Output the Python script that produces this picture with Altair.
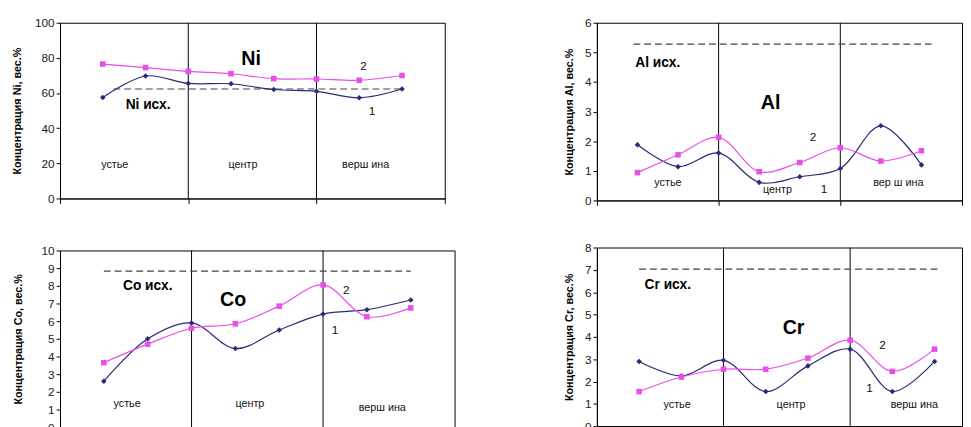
import altair as alt
import pandas as pd

positions = [1, 2, 3, 4, 5, 6, 7, 8]

ni_1 = [57.5, 69.7, 65.5, 65.3, 62.0, 61.0, 57.3, 62.3]
ni_2 = [76.5, 74.5, 72.3, 71.0, 68.2, 68.0, 67.3, 70.0]
ni_base = 62.3

al_1 = [1.88, 1.14, 1.60, 0.61, 0.80, 1.08, 2.52, 1.20]
al_2 = [0.94, 1.54, 2.13, 0.97, 1.28, 1.78, 1.33, 1.68]
al_base = 5.28

co_1 = [2.6, 5.0, 5.9, 4.45, 5.5, 6.4, 6.65, 7.2]
co_2 = [3.65, 4.7, 5.6, 5.85, 6.85, 8.05, 6.25, 6.75]
co_base = 8.83

cr_1 = [2.9, 2.25, 2.95, 1.55, 2.7, 3.45, 1.55, 2.9]
cr_2 = [1.55, 2.2, 2.55, 2.55, 3.05, 3.85, 2.45, 3.45]
cr_base = 7.03

zone_names = ["устье", "центр", "верш ина"]
series_names = ["1", "2"]

FONT = "Liberation Sans"


def panel(elem, s1, s2, base, base_x, ymax, ystep, w, h, ann, zones_xy, zone_labels,
          xmax=9, title_pad=10):
    df = pd.DataFrame({"x": positions * 2, "v": s1 + s2,
                       "s": [series_names[0]] * 8 + [series_names[1]] * 8})
    xs = alt.Scale(domain=[0, xmax], nice=False, zero=False)
    ys = alt.Scale(domain=[0, ymax], nice=False)
    xax = alt.Axis(values=[v for v in [0, 3, 6, 9] if v <= xmax], labels=False, tickSize=5,
                   title=None, grid=False, domainColor="black", tickColor="black")
    yax = alt.Axis(values=list(range(0, ymax + 1, ystep)), title=f"Концентрация {elem}, вес.%",
                   grid=False, tickSize=4, tickColor="black", domainColor="black",
                   labelFontSize=12, labelColor="#222", labelFont=FONT, labelPadding=2,
                   labelOverlap=False, labelFlush=False,
                   titleFontSize=11, titleFontWeight="bold", titleFont=FONT, titleColor="black",
                   titlePadding=title_pad)
    X = lambda f: alt.X(f, scale=xs, axis=xax)
    Y = lambda f: alt.Y(f, scale=ys, axis=yax)

    vlines = alt.Chart(pd.DataFrame({"x": [3, 6]})).mark_rule(color="black", strokeWidth=1).encode(
        x=X("x:Q"))
    dashed = alt.Chart(pd.DataFrame({"x": [base_x[0]], "x2": [base_x[1]], "y": [base]})).mark_rule(
        strokeDash=[7, 4], color="#444", strokeWidth=1.2).encode(
        x=X("x:Q"), x2="x2:Q", y=Y("y:Q"))
    lines = alt.Chart(df).mark_line(interpolate="catmull-rom", strokeWidth=1.2).encode(
        x=X("x:Q"), y=Y("v:Q"),
        color=alt.Color("s:N", scale=alt.Scale(domain=series_names, range=["#2a2a78", "#e84ee8"]), legend=None))
    pts = alt.Chart(df).mark_point(filled=True, size=32, opacity=1).encode(
        x=X("x:Q"), y=Y("v:Q"),
        color=alt.Color("s:N", scale=alt.Scale(domain=series_names, range=["#000070", "#ff00ff"]), legend=None),
        shape=alt.Shape("s:N", scale=alt.Scale(domain=series_names, range=["diamond", "square"]), legend=None))

    bold = pd.DataFrame([a for a in ann if a[4]], columns=["t", "x", "y", "size", "b"])
    norm = pd.DataFrame([a for a in ann if not a[4]], columns=["t", "x", "y", "size", "b"])
    zdf = pd.DataFrame({"t": zone_labels, "x": [z[0] for z in zones_xy], "y": [z[1] for z in zones_xy]})

    tb = alt.Chart(bold).mark_text(font=FONT, fontWeight="bold", color="black").encode(
        x=X("x:Q"), y=Y("y:Q"), text="t:N", size=alt.Size("size:Q", scale=None))
    tn = alt.Chart(norm).mark_text(font=FONT, color="#111").encode(
        x=X("x:Q"), y=Y("y:Q"), text="t:N", size=alt.Size("size:Q", scale=None))
    tz = alt.Chart(zdf).mark_text(font=FONT, fontSize=11, color="#111").encode(
        x=X("x:Q"), y=Y("y:Q"), text="t:N")

    return alt.layer(vlines, dashed, lines, pts, tb, tn, tz).properties(width=w, height=h)


p1 = panel("Ni", ni_1, ni_2, ni_base, [1.25, 8.05], 100, 20, 392, 179,
           [("Ni", 4.47, 79.5, 20, True), ("Ni исх.", 2.06, 53, 14, True),
            ("2", 7.1, 75.6, 12, False), ("1", 7.3, 50, 12, False)],
           [(1.28, 19), (4.28, 19), (7.15, 19)], zone_names, title_pad=12)
p2 = panel("Al", al_1, al_2, al_base, [0.9, 8.25], 6, 1, 372, 181,
           [("Al", 4.28, 3.29, 20, True), ("Al исх.", 1.5, 4.64, 14, True),
            ("2", 5.33, 2.13, 12, False), ("1", 5.6, 0.4, 12, False)],
           [(1.75, 0.6), (4.45, 0.36), (7.43, 0.6)], ["устье", "центр", "вер ш ина"])
p3 = panel("Co", co_1, co_2, co_base, [1.0, 8.0], 10, 1, 402, 180,
           [("Co", 3.95, 7.2, 20, True), ("Co исх.", 2.0, 7.96, 14, True),
            ("2", 6.53, 7.78, 12, False), ("1", 6.27, 5.48, 12, False)],
           [(1.53, 1.3), (4.33, 1.3), (7.35, 1.1)], zone_names, title_pad=18)
p4 = panel("Cr", cr_1, cr_2, cr_base, [1.0, 8.1], 8, 1, 372, 182,
           [("Cr", 4.66, 4.4, 20, True), ("Cr исх.", 1.68, 6.3, 14, True),
            ("2", 6.77, 3.63, 12, False), ("1", 6.46, 1.72, 12, False)],
           [(1.9, 0.94), (4.6, 0.94), (7.52, 0.94)], zone_names, xmax=8.651)

col1 = alt.vconcat(p1, p3, spacing=39)
col2 = alt.vconcat(p2, p4, spacing=34)

chart = alt.hconcat(col1, col2, spacing=109).properties(
    padding={"left": 3, "top": 4, "right": 0, "bottom": 0},
    background="white",
).configure_view(stroke="black", strokeWidth=1).configure_axis(labelOverlap=False)

chart.save("out.html", embed_options={"renderer": "svg", "actions": False})
